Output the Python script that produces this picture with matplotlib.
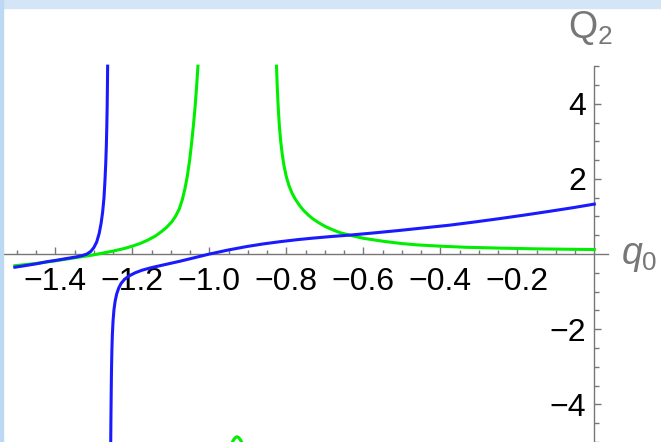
import numpy as np
import matplotlib.pyplot as plt
from matplotlib.patches import Rectangle

plt.rcParams['font.family'] = ['Liberation Sans', 'DejaVu Sans']
plt.rcParams['mathtext.fontset'] = 'custom'
plt.rcParams['mathtext.rm'] = 'Liberation Sans'
plt.rcParams['mathtext.it'] = 'Liberation Sans:italic'

# branche bleue, à gauche du pôle q0 ~ -1.26
q_bleu_g = [-1.505, -1.48, -1.45, -1.42, -1.40, -1.38, -1.36, -1.345, -1.33, -1.318,
            -1.308, -1.30, -1.2925, -1.286, -1.281, -1.277, -1.2735, -1.271, -1.269,
            -1.2675, -1.2663, -1.2653, -1.2646, -1.264]
Q_bleu_g = [-0.35, -0.31, -0.26, -0.20, -0.17, -0.135, -0.10, -0.075, -0.04, 0.0,
            0.07, 0.17, 0.32, 0.55, 0.82, 1.12, 1.5, 1.95, 2.4,
            2.85, 3.35, 3.9, 4.45, 5.0]
# branche bleue, à droite du pôle
q_bleu_d = [-1.2562, -1.2556, -1.2549, -1.2541, -1.2531, -1.2518, -1.25, -1.2476, -1.2445,
            -1.2405, -1.2355, -1.229, -1.22, -1.208, -1.193, -1.175, -1.15, -1.111,
            -1.076, -1.04, -1.0, -0.95, -0.903, -0.86, -0.816, -0.77, -0.73, -0.68,
            -0.6345, -0.57, -0.505, -0.44, -0.375, -0.31, -0.245, -0.18, -0.115,
            -0.055, 0.0]
Q_bleu_d = [-5.2, -4.5, -3.8, -3.15, -2.6, -2.15, -1.78, -1.48, -1.25,
            -1.06, -0.91, -0.78, -0.67, -0.58, -0.50, -0.43, -0.36, -0.27,
            -0.19, -0.10, 0.0, 0.11, 0.20, 0.27, 0.33, 0.385, 0.425, 0.47,
            0.505, 0.565, 0.63, 0.70, 0.77, 0.855, 0.945, 1.04, 1.14,
            1.235, 1.33]

# branche verte, à gauche du pôle q0 ~ -1.03
q_vert_g = [-1.505, -1.45, -1.40, -1.35, -1.30, -1.25, -1.22, -1.20, -1.18, -1.16,
            -1.14, -1.124, -1.112, -1.098, -1.088, -1.078, -1.07, -1.063, -1.057, -1.051,
            -1.046, -1.0413, -1.037, -1.033, -1.0295]
Q_vert_g = [-0.31, -0.25, -0.18, -0.10, -0.02, 0.08, 0.15, 0.21, 0.28, 0.37,
            0.48, 0.60, 0.70, 0.85, 1.0, 1.2, 1.45, 1.75, 2.08, 2.5,
            2.95, 3.42, 3.9, 4.45, 5.0]
# branche verte entre les deux pôles (seul le sommet est visible)
q_vert_m = [-0.95, -0.944, -0.94, -0.936, -0.932, -0.928, -0.924, -0.92, -0.916, -0.912, -0.906]
Q_vert_m = [-5.35, -5.12, -5.0, -4.93, -4.88, -4.86, -4.88, -4.93, -5.0, -5.12, -5.35]
# branche verte, à droite du pôle q0 ~ -0.825
q_vert_d = [-0.8255, -0.8235, -0.821, -0.818, -0.8145, -0.8105, -0.806, -0.80, -0.793,
            -0.785, -0.776, -0.766, -0.755, -0.743, -0.73, -0.715, -0.698, -0.678,
            -0.6605, -0.6345, -0.60, -0.548, -0.50, -0.461, -0.40, -0.331, -0.25,
            -0.158, -0.08, 0.0]
Q_vert_d = [5.0, 4.45, 3.9, 3.4, 3.0, 2.65, 2.35, 2.06, 1.82,
            1.62, 1.45, 1.30, 1.16, 1.04, 0.93, 0.83, 0.73, 0.64,
            0.57, 0.50, 0.42, 0.34, 0.28, 0.245, 0.21, 0.18, 0.16,
            0.14, 0.13, 0.12]

x_ticks = [-1.4, -1.2, -1.0, -0.8, -0.6, -0.4, -0.2]
x_labels = ['\u22121.4', '\u22121.2', '\u22121.0', '\u22120.8', '\u22120.6', '\u22120.4', '\u22120.2']
y_ticks = [-4, -2, 2, 4]
y_labels = ['\u22124', '\u22122', '2', '4']

fig = plt.figure(figsize=(6.61, 4.42), dpi=100)
ax = fig.add_axes([0, 0, 1, 1])
ax.set_xlim(-1.5436, 0.1732)
ax.set_ylim(-4.93, 6.76)
ax.patch.set_visible(False)

ax.plot(q_vert_g, Q_vert_g, color='#00ee00', lw=2.2, zorder=3)
ax.plot(q_vert_m, Q_vert_m, color='#00ee00', lw=2.2, zorder=3)
ax.plot(q_vert_d, Q_vert_d, color='#00ee00', lw=2.2, zorder=3)
ax.plot(q_bleu_g, Q_bleu_g, color='#1a1aff', lw=2.2, zorder=4)
ax.plot(q_bleu_d, Q_bleu_d, color='#1a1aff', lw=2.2, zorder=4)

# axes à la Mathematica : croisés en (0,0)
gris = '#777777'
for s in ['top', 'right']:
    ax.spines[s].set_visible(False)
ax.spines['bottom'].set_position(('data', 0))
ax.spines['left'].set_position(('data', 0))
ax.spines['bottom'].set_bounds(-1.535, 0.035)
ax.spines['left'].set_bounds(-5, 5)
for s in ['bottom', 'left']:
    ax.spines[s].set_color(gris)
    ax.spines[s].set_linewidth(1.0)

ax.set_xticks(x_ticks)
ax.set_xticklabels(x_labels)
ax.set_xticks([v for v in np.arange(-1.5, 0.0, 0.05) if min(abs(v - t) for t in x_ticks) > 1e-6], minor=True)
ax.set_yticks(y_ticks)
ax.set_yticklabels(y_labels)
ax.set_yticks([v for v in np.arange(-5, 5.01, 0.5) if v != 0 and v not in y_ticks], minor=True)

ax.tick_params(axis='x', which='major', direction='in', length=5, width=1, color=gris,
               pad=9.5, labelsize=23, labelcolor='black')
ax.tick_params(axis='x', which='minor', direction='in', length=3, width=1, color=gris)
ax.tick_params(axis='y', which='major', direction='in', length=5, width=1, color=gris,
               pad=6, labelsize=23, labelcolor='black')
ax.tick_params(axis='y', which='minor', direction='in', length=3.5, width=1, color=gris)

ax.text(-0.068, 5.76, r'$\mathrm{Q}_\mathrm{2}$', fontsize=27, color=gris,
        ha='left', va='baseline')
ax.text(0.07, -0.26, r'$q_\mathrm{0}$', fontsize=27, color=gris,
        ha='left', va='baseline')

# cadre bleu clair de la fenêtre
fig.add_artist(Rectangle((0, 1 - 8 / 442), 1, 8 / 442, transform=fig.transFigure,
                         color='#d3e5f6', zorder=10))
fig.add_artist(Rectangle((0, 0), 2.5 / 661, 1, transform=fig.transFigure,
                         color='#bcd8f2', zorder=10))

plt.savefig('out.png', dpi=100)
